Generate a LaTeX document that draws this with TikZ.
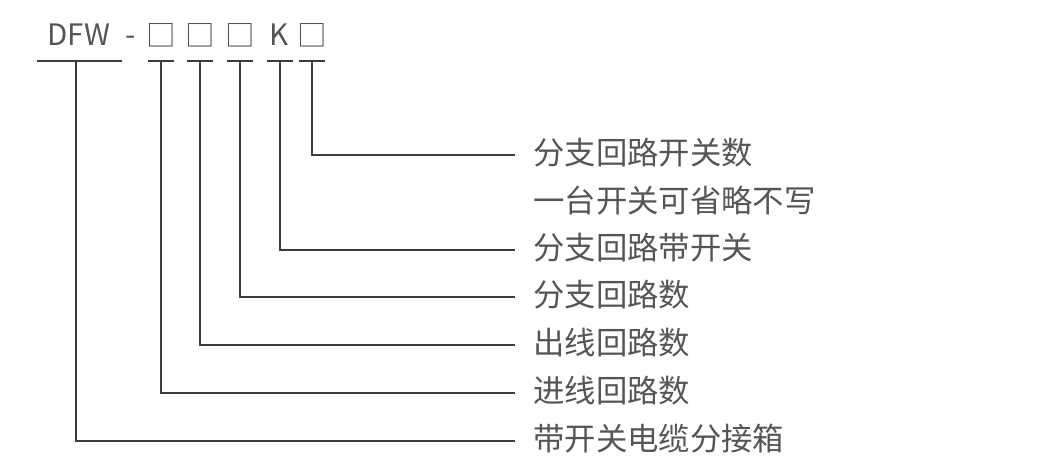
\documentclass[tikz,border=0pt]{standalone}
\usepackage{fontspec}
\setmainfont{Noto Sans CJK SC}
\usetikzlibrary{positioning}
\definecolor{txtgray}{HTML}{555555}
\definecolor{lngray}{HTML}{3C3C3C}
\tikzset{
  code/.style={anchor=base, inner sep=0pt, text=txtgray, font=\fontsize{21}{24}\selectfont},
  lab/.style={anchor=west, inner sep=0pt, text=txtgray, font=\fontsize{22.3}{26}\selectfont},
  uline/.style={draw=lngray, line width=1.1pt},
  link/.style={draw=lngray, line width=1.1pt}
}

\begin{document}
\begin{tikzpicture}[x=0.025cm, y=-0.025cm] % {{{
\useasboundingbox (0,0) rectangle (1053,468);
\begin{scope} % Code {{{
\node[code] (dfw) at (79,45) {DFW};
\node[code] (dash) at (131,45) {-};
\node[code] (b1) at (161,46) {□};
\node[code] (b2) at (200,46) {□};
\node[code] (b3) at (240,46) {□};
\node[code] (k) at (279,45) {K};
\node[code] (b4) at (312,46) {□};
% underlines
\draw[uline] (37,61) -- (122,61);
\foreach \x/\nm in {161/u1,200/u2,240/u3,280/uk,312/u4} {
  \coordinate (\nm) at (\x,61);
  \draw[uline] (\x-13,61) -- (\x+13,61);
}
\coordinate (udfw) at (76,61);
\end{scope} % }}}
\begin{scope} % Labels {{{
\node[lab] (l1) at (533,153) {分支回路开关数};
\node[lab] (l1b) at (533,201) {一台开关可省略不写};
\node[lab] (lk) at (533,248) {分支回路带开关};
\node[lab] (l3) at (533,295) {分支回路数};
\node[lab] (l2) at (533,343) {出线回路数};
\node[lab] (l0) at (533,391) {进线回路数};
\node[lab] (ldfw) at (533,439) {带开关电缆分接箱};
\end{scope} % }}}
% connectors
\foreach \u/\l in {u4/l1,uk/lk,u3/l3,u2/l2,u1/l0,udfw/ldfw} {
  \draw[link] (\u) |- ([xshift=-0.45cm,yshift=-0.05cm]\l.west);
}
\end{tikzpicture} % }}}
\end{document}
